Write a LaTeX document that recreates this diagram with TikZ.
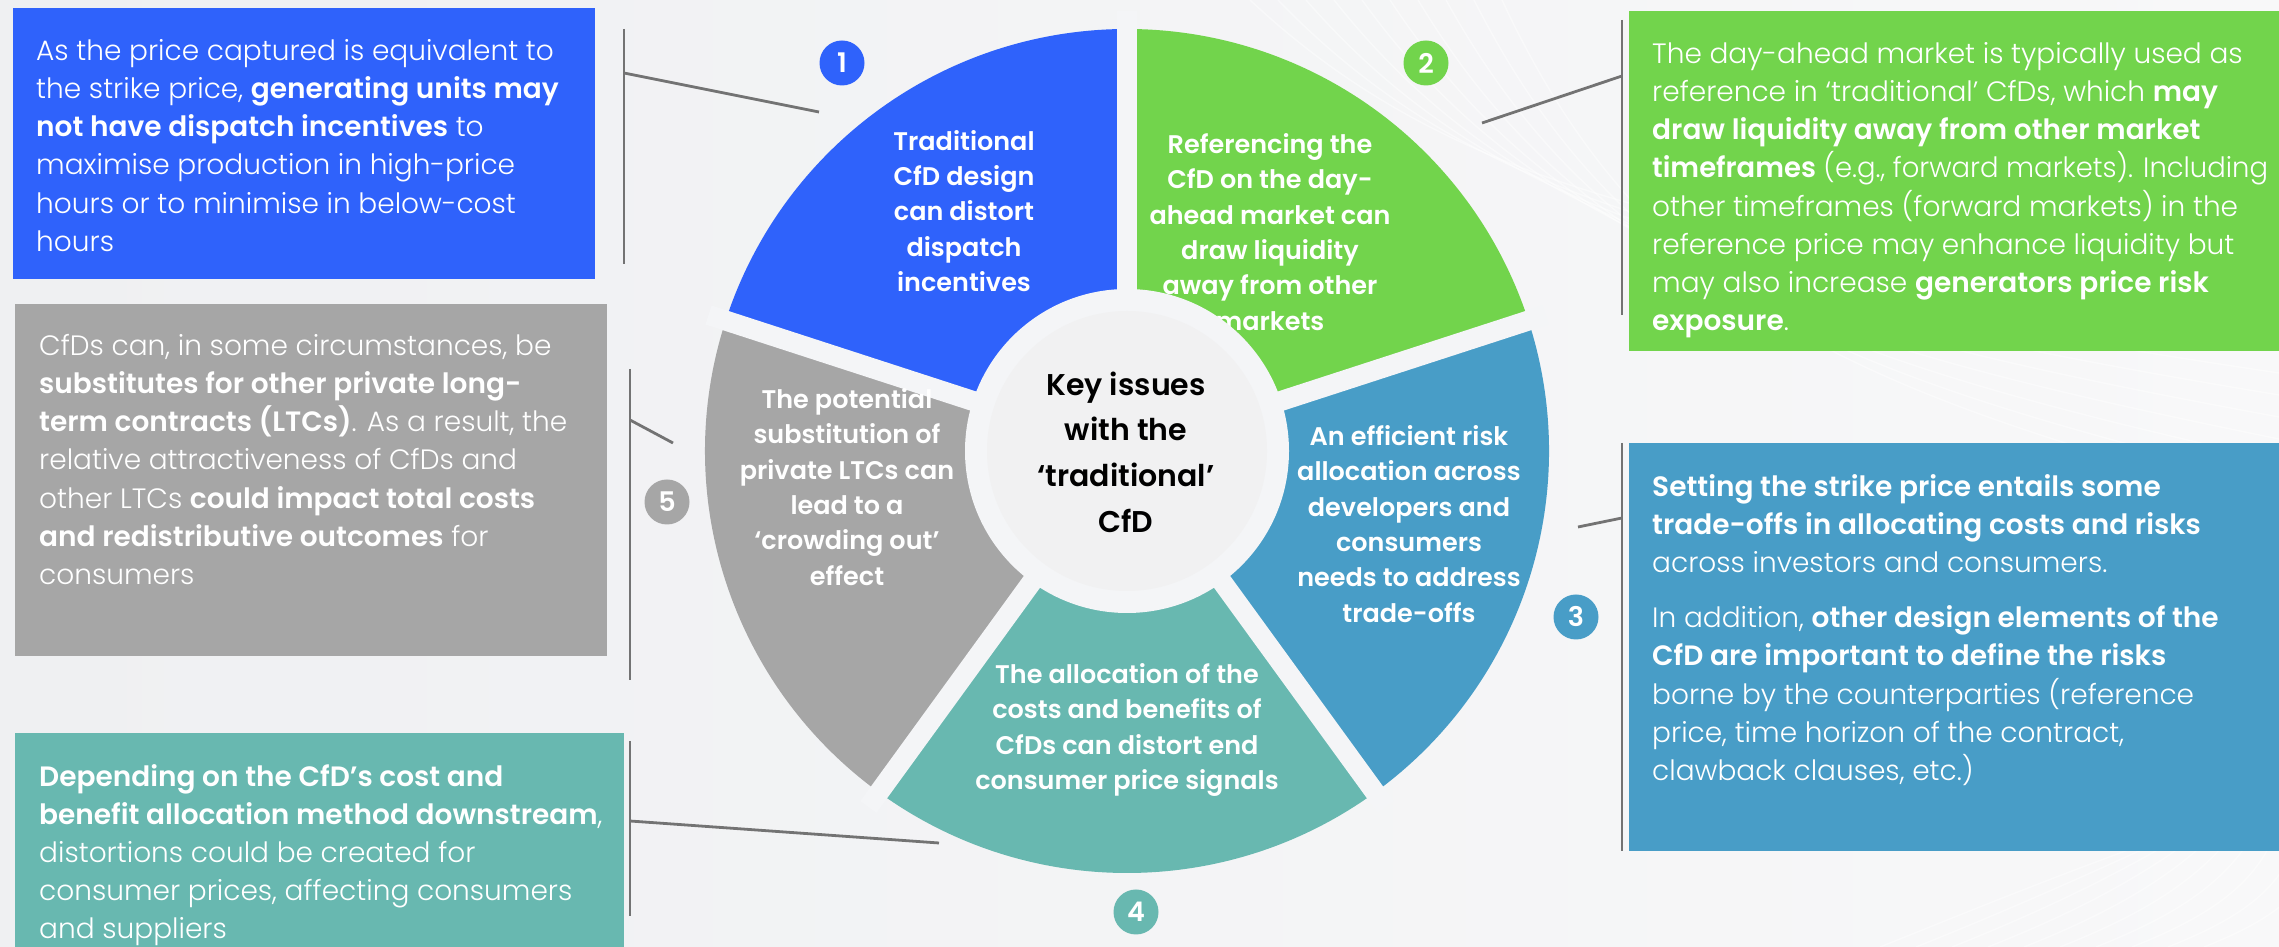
\documentclass[tikz,border=0pt]{standalone}
\usepackage{fontspec}
\setmainfont{Poppins}[UprightFont={* Light},BoldFont={* SemiBold}]
\usepackage{xcolor}
\definecolor{issueblue}{HTML}{2F62FB}
\definecolor{issuegreen}{HTML}{72D44C}
\definecolor{issuesky}{HTML}{489DC7}
\definecolor{issueteal}{HTML}{68B8B0}
\definecolor{issuegrey}{HTML}{A6A6A6}
\definecolor{paper}{HTML}{F4F5F7}
\definecolor{paperleft}{HTML}{EFF0F2}
\definecolor{paperright}{HTML}{F8F8F9}
\definecolor{hubgrey}{HTML}{F1F1F2}
\definecolor{leadergrey}{HTML}{737373}
\tikzset{
boxtext/.style={anchor=north west, inner sep=0pt, align=left, text=white, font=\fontsize{28}{38.2}\selectfont},
segtext/.style={inner sep=0pt, align=center, text=white, font=\fontsize{25.5}{35.4}\selectfont\bfseries},
hubtext/.style={inner sep=0pt, align=center, text=black, font=\fontsize{30}{45.6}\selectfont\bfseries},
badge/.style={circle, inner sep=0pt, minimum size=45pt, text=white, font=\fontsize{27}{27}\selectfont\bfseries},
gap/.style={line width=20pt, paper},
leader/.style={line width=2.8pt, leadergrey},
swirl/.style={line width=1.4pt, white, opacity=0.45},
}

\begin{document}
\begin{tikzpicture}[x=1pt,y=1pt]
        \useasboundingbox (0,0) rectangle (2279,947);
        \shade[left color=paperleft, right color=paperright] (0,0) rectangle (2279,947);
        \foreach \k in {0,...,9}
        {
        \draw[swirl] (1250+28*\k,947) .. controls (1450+22*\k,760-14*\k) and (1700+18*\k,700-16*\k) .. (2279,640-22*\k);
        \draw[swirl] (1880+36*\k,0) .. controls (1980+36*\k,40) and (2100+30*\k,90) .. (2279,150+12*\k);
        }

        \coordinate (hub) at (1127,496);
        \fill[issueblue] (hub) -- ++(90:422) arc[start angle=90, end angle=162, radius=422] -- cycle;
        \fill[issuegreen] (hub) -- ++(18:422) arc[start angle=18, end angle=90, radius=422] -- cycle;
        \fill[issuesky] (hub) -- ++(-54:422) arc[start angle=-54, end angle=18, radius=422] -- cycle;
        \fill[issueteal] (hub) -- ++(-126:422) arc[start angle=-126, end angle=-54, radius=422] -- cycle;
        \fill[issuegrey] (hub) -- ++(162:422) arc[start angle=162, end angle=234, radius=422] -- cycle;
        \draw[gap] (hub) -- ++(90:440);
        \draw[gap] (hub) -- ++(18:440);
        \draw[gap] (hub) -- ++(-54:440);
        \draw[gap] (hub) -- ++(-126:440);
        \draw[gap] (hub) -- ++(162:440);

        \node[segtext] at (964,736) (s1) {Traditional\\CfD design\\can distort\\dispatch\\incentives};
        \node[segtext] at (1270,715) (s2) {Referencing the\\CfD on the day-\\ahead market can\\draw liquidity\\away from other\\markets};
        \node[segtext] at (1409,423) (s3) {An efficient risk\\allocation across\\developers and\\consumers\\needs to address\\trade-offs};
        \node[segtext] at (1127,217) (s4) {The allocation of the\\costs and benefits of\\CfDs can distort end\\consumer price signals};
        \node[segtext] at (847,460) (s5) {The potential\\substitution of\\private LTCs can\\lead to a\\‘crowding out’\\effect};

        \fill[paper] (hub) circle[radius=162];
        \fill[hubgrey] (hub) circle[radius=140];
        \node[hubtext] at (1126,495) (key) {Key issues\\with the\\‘traditional’\\CfD};

        \node[badge, fill=issueblue] at (842,884) (b1) {1};
        \node[badge, fill=issuegreen] at (1426,884) (b2) {2};
        \node[badge, fill=issuesky] at (1576,330) (b3) {3};
        \node[badge, fill=issueteal] at (1136,35) (b4) {4};
        \node[badge, fill=issuegrey] at (667,445) (b5) {5};

        \fill[issueblue] (13,939) rectangle (595,668);
        \fill[issuegreen] (1629,936) rectangle (2279,596);
        \fill[issuesky] (1629,504) rectangle (2279,96);
        \fill[issueteal] (15,214) rectangle (624,0);
        \fill[issuegrey] (15,643) rectangle (607,291);

        \node[boxtext] at (36,908) (t1) {As the price captured is equivalent to\\the strike price, \textbf{generating units may}\\\textbf{not have dispatch incentives} to\\maximise production in high-price\\hours or to minimise in below-cost\\hours};
        \node[boxtext] at (1652,905) (t2) {The day-ahead market is typically used as\\reference in ‘traditional’ CfDs, which \textbf{may}\\\textbf{draw liquidity away from other market}\\{\addfontfeature{FakeStretch=0.98}\textbf{timeframes} (e.g., forward markets). Including}\\other timeframes (forward markets) in the\\reference price may enhance liquidity but\\may also increase \textbf{generators price risk}\\\textbf{exposure}.};
        \node[boxtext] at (1652,473) (t3) {\textbf{Setting the strike price entails some}\\\textbf{trade-offs in allocating costs and risks}\\across investors and consumers.\\[17pt]In addition, \textbf{other design elements of the}\\\textbf{CfD are important to define the risks}\\borne by the counterparties (reference\\price, time horizon of the contract,\\clawback clauses, etc.)};
        \node[boxtext] at (39,183) (t4) {\textbf{Depending on the CfD’s cost and}\\\textbf{benefit allocation method downstream},\\distortions could be created for\\consumer prices, affecting consumers\\and suppliers};
        \node[boxtext] at (39,613) (t5) {CfDs can, in some circumstances, be\\\textbf{substitutes for other private long-}\\\textbf{term contracts (LTCs)}. As a result, the\\relative attractiveness of CfDs and\\other LTCs \textbf{could impact total costs}\\\textbf{and redistributive outcomes} for\\consumers};

        \coordinate (k1a) at (624,918);
        \coordinate (k1b) at (624,683);
        \coordinate (k1) at (624,874);
        \coordinate (w1) at (819,835);
        \coordinate (k2a) at (1622,927);
        \coordinate (k2b) at (1622,632);
        \coordinate (k2) at (1622,871);
        \coordinate (w2) at (1482,824);
        \coordinate (k3a) at (1622,504);
        \coordinate (k3b) at (1622,96);
        \coordinate (k3) at (1622,429);
        \coordinate (w3) at (1578,420);
        \coordinate (k4a) at (630,206);
        \coordinate (k4b) at (630,31);
        \coordinate (k4) at (630,126);
        \coordinate (w4) at (939,104);
        \coordinate (k5a) at (630,578);
        \coordinate (k5b) at (630,267);
        \coordinate (k5) at (630,527);
        \coordinate (w5) at (673,504);
        \draw[leader] (k1a) -- (k1b);
        \draw[leader] (k1) -- (w1);
        \draw[leader] (k2a) -- (k2b);
        \draw[leader] (k2) -- (w2);
        \draw[leader] (k3a) -- (k3b);
        \draw[leader] (k3) -- (w3);
        \draw[leader] (k4a) -- (k4b);
        \draw[leader] (k4) -- (w4);
        \draw[leader] (k5a) -- (k5b);
        \draw[leader] (k5) -- (w5);
\end{tikzpicture}
\end{document}
